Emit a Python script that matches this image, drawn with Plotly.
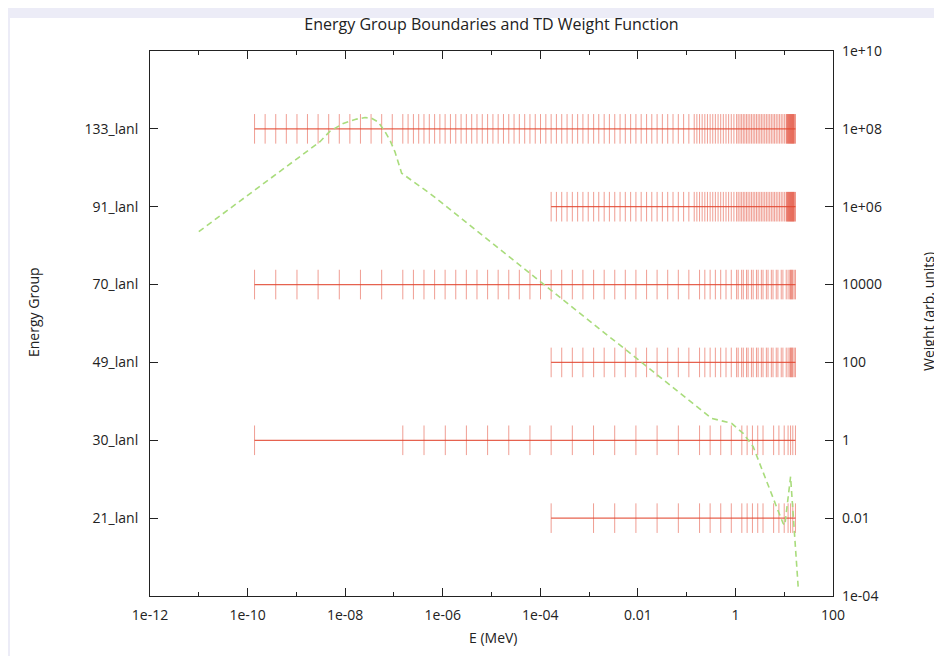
import plotly.graph_objects as go

# ---------------- data (energies in MeV) ----------------
group_labels = ["21_lanl", "30_lanl", "49_lanl", "70_lanl", "91_lanl", "133_lanl"]
group_rows = [1, 2, 3, 4, 5, 6]

bounds_21 = [1.67e-4, 1.235e-3, 3.35e-3, 9.12e-3, 2.48e-2, 6.76e-2, 0.184, 0.303, 0.5, 0.823,
             1.353, 1.738, 2.232, 2.865, 3.68, 6.07, 7.79, 10.0, 12.0, 13.5, 15.0, 17.0]

bounds_30 = [1.39e-10, 1.52e-7, 4.14e-7, 1.13e-6, 3.06e-6, 8.32e-6, 2.26e-5, 6.14e-5, 1.67e-4,
             4.54e-4, 1.235e-3, 3.35e-3, 9.12e-3, 2.48e-2, 6.76e-2, 0.184, 0.303, 0.5, 0.823,
             1.353, 1.738, 2.232, 2.865, 3.68, 6.07, 7.79, 10.0, 12.0, 13.5, 15.0, 17.0]

bounds_49 = [1.67e-4, 2.75e-4, 4.54e-4, 7.48e-4, 1.24e-3, 2.04e-3, 3.36e-3, 5.53e-3, 9.12e-3,
             1.51e-2, 2.48e-2, 4.09e-2, 6.75e-2, 0.111, 0.184, 0.236, 0.303, 0.388, 0.499,
             0.641, 0.822, 1.057, 1.14, 1.34, 1.45, 1.69, 1.82, 2.13, 2.31, 2.70, 2.92, 3.40,
             3.68, 4.31, 4.66, 5.45, 5.89, 6.87, 7.43, 8.69, 9.40, 11.0, 12.0, 13.0, 13.5,
             14.0, 14.5, 15.0, 16.0, 17.0]

bounds_70 = [1.39e-10, 3.78e-10, 1.03e-9, 2.79e-9, 7.59e-9, 2.06e-8, 5.61e-8, 1.52e-7, 2.51e-7,
             4.13e-7, 6.82e-7, 1.12e-6, 1.85e-6, 3.05e-6, 5.04e-6, 8.32e-6, 1.37e-5, 2.26e-5,
             3.72e-5, 6.14e-5, 1.01e-4, 1.67e-4, 2.75e-4, 4.54e-4, 7.48e-4, 1.24e-3, 2.04e-3,
             3.36e-3, 5.53e-3, 9.12e-3, 1.51e-2, 2.48e-2, 4.09e-2, 6.75e-2, 0.111, 0.184,
             0.236, 0.303, 0.388, 0.499, 0.641, 0.822, 1.057, 1.14, 1.34, 1.45, 1.69, 1.82,
             2.13, 2.31, 2.70, 2.92, 3.40, 3.68, 4.31, 4.66, 5.45, 5.89, 6.87, 7.43, 8.69,
             9.40, 11.0, 12.0, 13.0, 13.5, 14.0, 14.5, 15.0, 16.0, 17.0]

bounds_91 = [1.67e-4, 2.14e-4, 2.75e-4, 3.54e-4, 4.54e-4, 5.83e-4, 7.48e-4, 9.61e-4, 1.24e-3,
             1.58e-3, 2.04e-3, 2.61e-3, 3.36e-3, 4.32e-3, 5.53e-3, 7.11e-3, 9.12e-3, 1.17e-2,
             1.51e-2, 1.93e-2, 2.48e-2, 3.18e-2, 4.09e-2, 5.26e-2, 6.75e-2, 8.67e-2, 0.111,
             0.143, 0.162, 0.184, 0.208, 0.236, 0.267, 0.303, 0.343, 0.388, 0.441, 0.499,
             0.565, 0.641, 0.726, 0.822, 0.931, 1.057, 1.14, 1.24, 1.34, 1.45, 1.56, 1.69,
             1.82, 1.97, 2.13, 2.31, 2.49, 2.70, 2.92, 3.15, 3.40, 3.68, 3.98, 4.31, 4.66,
             5.04, 5.45, 5.89, 6.35, 6.87, 7.43, 8.04, 8.69, 9.40, 10.2, 11.0, 11.3, 11.6,
             11.9, 12.2, 12.5, 12.8, 13.1, 13.4, 13.7, 14.0, 14.3, 14.6, 14.9, 15.2, 15.5,
             15.9, 16.4, 17.0]

bounds_133 = [1.39e-10, 2.29e-10, 3.78e-10, 6.23e-10, 1.03e-9, 1.69e-9, 2.79e-9, 4.60e-9,
              7.59e-9, 1.25e-8, 2.06e-8, 3.40e-8, 5.61e-8, 9.25e-8, 1.52e-7, 1.95e-7, 2.51e-7,
              3.22e-7, 4.13e-7, 5.31e-7, 6.82e-7, 8.75e-7, 1.12e-6, 1.44e-6, 1.85e-6, 2.38e-6,
              3.05e-6, 3.93e-6, 5.04e-6, 6.47e-6, 8.32e-6, 1.07e-5, 1.37e-5, 1.76e-5, 2.26e-5,
              2.90e-5, 3.72e-5, 4.79e-5, 6.14e-5, 7.89e-5, 1.01e-4, 1.30e-4, 1.67e-4, 2.14e-4,
              2.75e-4, 3.54e-4, 4.54e-4, 5.83e-4, 7.48e-4, 9.61e-4, 1.24e-3, 1.58e-3, 2.04e-3,
              2.61e-3, 3.36e-3, 4.32e-3, 5.53e-3, 7.11e-3, 9.12e-3, 1.17e-2, 1.51e-2, 1.93e-2,
              2.48e-2, 3.18e-2, 4.09e-2, 5.26e-2, 6.75e-2, 8.67e-2, 0.111, 0.143, 0.162, 0.184,
              0.208, 0.236, 0.267, 0.303, 0.343, 0.388, 0.441, 0.499, 0.565, 0.641, 0.726,
              0.822, 0.931, 1.057, 1.14, 1.24, 1.34, 1.45, 1.56, 1.69, 1.82, 1.97, 2.13, 2.31,
              2.49, 2.70, 2.92, 3.15, 3.40, 3.68, 3.98, 4.31, 4.66, 5.04, 5.45, 5.89, 6.35,
              6.87, 7.43, 8.04, 8.69, 9.40, 10.2, 11.0, 11.3, 11.6, 11.9, 12.2, 12.5, 12.8,
              13.1, 13.4, 13.7, 14.0, 14.3, 14.6, 14.9, 15.2, 15.5, 15.9, 16.4, 17.0]

weight_energy = [1.0e-11, 3.05e-9, 4.89e-9, 9.14e-9, 1.72e-8, 2.55e-8, 3.49e-8, 4.76e-8,
                 6.55e-8, 8.28e-8, 1.05e-7, 1.44e-7, 5.47e-7, 0.256, 0.324, 0.832, 1.44,
                 2.31, 4.34, 6.95, 9.48, 10.3, 13.5, 19.3]
weight_value = [2.29e5, 4.68e7, 8.71e7, 1.38e8, 1.78e8, 1.95e8, 1.86e8, 1.51e8, 8.51e7,
                5.13e7, 2.57e7, 7.24e6, 2.19e6, 4.46, 3.67, 2.73, 1.51, 0.684, 0.0955,
                0.0197, 7.36e-3, 6.61e-3, 0.116, 1.74e-4]

x_tick_vals = [1e-12, 1e-10, 1e-8, 1e-6, 1e-4, 1e-2, 1, 100]
x_tick_text = ["1e-12", "1e-10", "1e-08", "1e-06", "1e-04", "0.01", "1", "100"]
x_minor_vals = [1e-11, 1e-9, 1e-7, 1e-5, 1e-3, 1e-1, 10]
w_tick_vals = [1e-4, 1e-2, 1, 1e2, 1e4, 1e6, 1e8, 1e10]
w_tick_text = ["1e-04", "0.01", "1", "100", "10000", "1e+06", "1e+08", "1e+10"]

# ---------------- figure ----------------
FONT = "Open Sans"
TXT = "#222"
TICK_COLOR = "rgba(226,62,40,0.5)"
LINE_COLOR = "rgba(226,70,48,0.85)"
HALF = 0.19

fig = go.Figure()
all_bounds = [bounds_21, bounds_30, bounds_49, bounds_70, bounds_91, bounds_133]
for row, b in zip(group_rows, all_bounds):
    tx, ty = [], []
    for e in b:
        tx += [e, e, None]
        ty += [row - HALF, row + HALF, None]
    fig.add_trace(go.Scatter(x=tx, y=ty, mode="lines", line=dict(color=TICK_COLOR, width=1),
                             hoverinfo="skip", showlegend=False))
    fig.add_trace(go.Scatter(x=[min(b), max(b)], y=[row, row], mode="lines",
                             line=dict(color=LINE_COLOR, width=1.2),
                             hoverinfo="skip", showlegend=False))

fig.add_trace(go.Scatter(x=weight_energy, y=weight_value, yaxis="y2", mode="lines",
                         line=dict(color="#a9dc7c", width=1.6, dash="6px,4px"),
                         showlegend=False))

# the page body has an 8px margin: the figure sits at (8, 8) in the window
OFF = 8
W, H = 942 - OFF, 656 - OFF
PL, PR, PT, PB = 150, 833, 51, 596          # plot frame in window pixels
L, R, T, B = PL - OFF, W - (PR - OFF), PT - OFF, H - (PB - OFF)
pw, ph = W - L - R, H - T - B


def px(xw):
    return (xw - PL) / pw


def py(yw):
    return (PB - yw) / ph


def label(text, xw, yw, angle=0):
    return dict(text=text, xref="paper", yref="paper", x=px(xw), y=py(yw),
                xanchor="center", yanchor="middle", textangle=angle, showarrow=False,
                font=dict(family=FONT, size=14, color=TXT))


fig.update_layout(
    width=W, height=H,
    margin=dict(l=L, r=R, t=T, b=B, autoexpand=False),
    paper_bgcolor="#ececf7",
    plot_bgcolor="white",
    font=dict(family=FONT, size=14, color=TXT),
    title=dict(text="Energy Group Boundaries and TD Weight Function", x=0.5, xref="paper",
               y=1 - (24 - OFF) / H, yref="container", yanchor="middle",
               font=dict(family=FONT, size=16, color=TXT)),
    xaxis=dict(type="log", range=[-12, 2], tickvals=x_tick_vals, ticktext=x_tick_text,
               ticks="inside", ticklen=8, tickcolor=TXT, showline=True, linecolor=TXT,
               linewidth=1, mirror="ticks", showgrid=False, zeroline=False,
               ticklabelstandoff=6,
               minor=dict(tickvals=x_minor_vals, ticks="inside", ticklen=4, tickcolor=TXT,
                          showgrid=False)),
    yaxis=dict(range=[0, 7], tickvals=group_rows, ticktext=group_labels, ticks="inside",
               ticklen=8, tickcolor=TXT, showline=True, linecolor=TXT, linewidth=1,
               mirror=True, showgrid=False, zeroline=False, ticklabelstandoff=8),
    yaxis2=dict(type="log", range=[-4, 10], overlaying="y", side="right",
                tickvals=w_tick_vals, ticktext=w_tick_text, ticks="inside", ticklen=8,
                tickcolor=TXT, showgrid=False, zeroline=False, showline=False,
                ticklabelstandoff=8),
    shapes=[dict(type="rect", xref="paper", yref="paper", x0=px(10), x1=px(990),
                 y0=py(700), y1=py(18), fillcolor="white", line=dict(width=0),
                 layer="below")],
    annotations=[
        label("E (MeV)", 493, 637),
        label("Energy Group", 33, 312, -90),
        label("Weight (arb. units)", 928, 312, -90),
    ],
)

fig.write_html("out.html")
